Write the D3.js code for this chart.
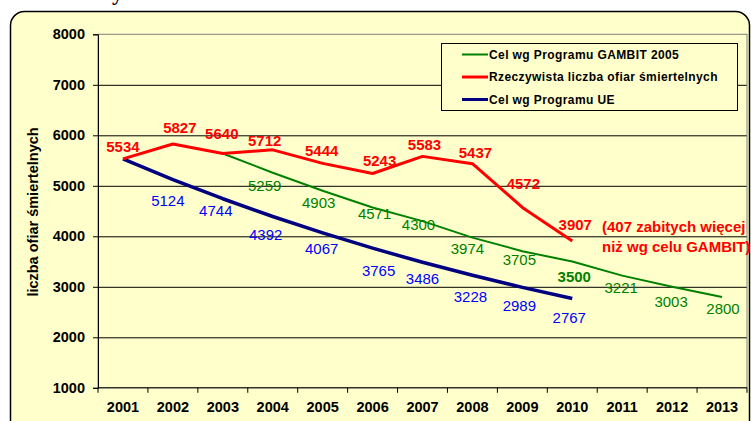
<!DOCTYPE html>
<html>
<head>
<meta charset="utf-8">
<script src="https://cdn.jsdelivr.net/npm/d3@7"></script>
<style>
  body { margin: 0; background: #fff; }
  svg { display: block; }
</style>
</head>
<body>
<svg id="chart" width="751" height="421"></svg>
<script>
const years = ["2001", "2002", "2003", "2004", "2005", "2006", "2007", "2008", "2009", "2010", "2011", "2012", "2013"];
const yTicks = [1000, 2000, 3000, 4000, 5000, 6000, 7000, 8000];
const gambit = [null, null, 5640, 5259, 4903, 4571, 4300, 3974, 3705, 3500, 3221, 3003, 2800];
const actual = [5534, 5827, 5640, 5712, 5444, 5243, 5583, 5437, 4572, 3907, null, null, null];
const ue = [5534, 5124, 4744, 4392, 4067, 3765, 3486, 3228, 2989, 2767, null, null, null];
const legendNames = ["Cel wg Programu GAMBIT 2005", "Rzeczywista liczba ofiar śmiertelnych", "Cel wg Programu UE"];
const yTitle = "liczba ofiar śmiertelnych";
const note = ["(407 zabitych więcej", "niż wg celu GAMBIT)"];

// label nudges in px from each point (null = no label)
const actualDx = [0, 7, -1, -8, -1, 7, 2, 3, 1, 3];
const actualDy = [-7, -11, -14, -4, -7, -8, -6, -6, -18, -11];
const gambitDx = [null, null, null, -8, -4, 2, -4, -5, -3, 2, -1, -1, 1];
const gambitDy = [null, null, null, 18, 17, 12, 9, 16, 14, 20, 17, 20, 17];
const ueDx = [null, -5, -7, -7, -1, 6, 0, -2, -3, -3];
const ueDy = [null, 26, 17, 23, 21, 28, 22, 27, 24, 24];

const font = "'Liberation Sans', Arial, sans-serif";
const bg = "#FFFFCC";
const svg = d3.select("#chart");

const plotLeft = 98, plotRight = 747, plotTop = 34.3, plotBottom = 387.8;

const x = d3.scaleBand().domain(years).range([plotLeft, plotRight]);
const y = d3.scaleLinear().domain([1000, 8000]).range([plotBottom, plotTop]);
const cx = d => x(d) + x.bandwidth() / 2;

// frame
svg.append("rect")
    .attr("x", 10.5).attr("y", 11.5)
    .attr("width", 739).attr("height", 440)
    .attr("rx", 14)
    .attr("fill", bg)
    .attr("stroke", "#000")
    .attr("stroke-width", 1.5);

// cut-off title glyph at the very top
svg.append("text")
    .attr("x", 112).attr("y", 0)
    .attr("font-family", "'Liberation Serif', serif")
    .attr("font-weight", "bold")
    .attr("font-size", 22)
    .text("y");

// grid
svg.append("g")
    .attr("transform", `translate(${plotLeft},0)`)
    .call(d3.axisLeft(y).tickValues(yTicks.slice(1, -1)).tickSize(-(plotRight - plotLeft)).tickFormat(""))
    .call(g => g.select(".domain").remove())
    .call(g => g.selectAll("line").attr("stroke", "#000"));

svg.append("rect")
    .attr("x", plotLeft).attr("y", plotTop)
    .attr("width", plotRight - plotLeft).attr("height", plotBottom - plotTop)
    .attr("fill", "none")
    .attr("stroke", "#808080");

// y axis
svg.append("g")
    .attr("transform", `translate(${plotLeft},0)`)
    .call(d3.axisLeft(y).tickValues(yTicks).tickSize(5).tickPadding(8).tickFormat(d3.format("d")))
    .call(g => g.selectAll("text")
        .attr("font-family", font)
        .attr("font-weight", "bold")
        .attr("font-size", 14.5)
        .attr("fill", "#000"));

// x axis
const xAxis = svg.append("g")
    .attr("transform", `translate(0,${plotBottom})`)
    .call(d3.axisBottom(x).tickSize(0).tickPadding(14))
    .call(g => g.select(".domain").remove())
    .call(g => g.selectAll("text")
        .attr("font-family", font)
        .attr("font-weight", "bold")
        .attr("font-size", 14.5)
        .attr("fill", "#000"));

xAxis.append("line")
    .attr("x1", plotLeft).attr("x2", plotRight)
    .attr("stroke", "#000");

xAxis.selectAll(".bound")
    .data(years.map(d => x(d)).concat([x.range()[1]]))
    .join("line")
    .attr("class", "bound")
    .attr("x1", d => d).attr("x2", d => d)
    .attr("y1", 0).attr("y2", 5)
    .attr("stroke", "#000");

// y title
svg.append("text")
    .attr("transform", `translate(37.5,212) rotate(-90)`)
    .attr("text-anchor", "middle")
    .attr("font-family", font)
    .attr("font-weight", "bold")
    .attr("font-size", 14.5)
    .text(yTitle);

// lines
const line = d3.line()
    .defined(d => d != null)
    .x((d, i) => cx(years[i]))
    .y(d => y(d));

const series = [
    { values: gambit, color: "#008000", width: 2 },
    { values: ue, color: "#000080", width: 3.5 },
    { values: actual, color: "#FF0000", width: 3 }
];

series.forEach(s => {
    svg.append("path")
        .attr("d", line(s.values))
        .attr("fill", "none")
        .attr("stroke", s.color)
        .attr("stroke-width", s.width)
        .attr("stroke-linejoin", "round");
});

// value labels
function labels(values, dx, dy, color, weight) {
    values.forEach((v, i) => {
        if (v == null || dx[i] == null) return;
        svg.append("text")
            .attr("x", cx(years[i]) + dx[i])
            .attr("y", y(v) + dy[i])
            .attr("text-anchor", "middle")
            .attr("font-family", font)
            .attr("font-size", 15)
            .attr("font-weight", typeof weight === "function" ? weight(i) : weight)
            .attr("fill", color)
            .text(v);
    });
}

labels(gambit, gambitDx, gambitDy, "#008000", i => years[i] === "2010" ? "bold" : "normal");
labels(ue, ueDx, ueDy, "#0000FF", "normal");
labels(actual, actualDx, actualDy, "#FF0000", "bold");

// note
svg.append("text")
    .attr("x", 602).attr("y", 232)
    .attr("font-family", font)
    .attr("font-weight", "bold")
    .attr("font-size", 15)
    .attr("fill", "#FF0000")
    .selectAll("tspan")
    .data(note)
    .join("tspan")
    .attr("x", 602)
    .attr("dy", (d, i) => i ? 20 : 0)
    .text(d => d);

// legend
const legend = svg.append("g");
legend.append("rect")
    .attr("x", 441.5).attr("y", 43.5)
    .attr("width", 296).attr("height", 67)
    .attr("fill", bg)
    .attr("stroke", "#000");

const legendColors = ["#008000", "#FF0000", "#000080"];
const legendWidths = [2, 3, 3];
legendNames.forEach((name, i) => {
    const ly = 54.5 + i * 22.5;
    legend.append("line")
        .attr("x1", 462).attr("x2", 488)
        .attr("y1", ly).attr("y2", ly)
        .attr("stroke", legendColors[i])
        .attr("stroke-width", legendWidths[i]);
    legend.append("text")
        .attr("x", 489).attr("y", ly)
        .attr("dy", "0.36em")
        .attr("font-family", font)
        .attr("font-weight", "bold")
        .attr("font-size", 12)
        .attr("letter-spacing", 0.4)
        .text(name);
});
</script>
</body>
</html>
